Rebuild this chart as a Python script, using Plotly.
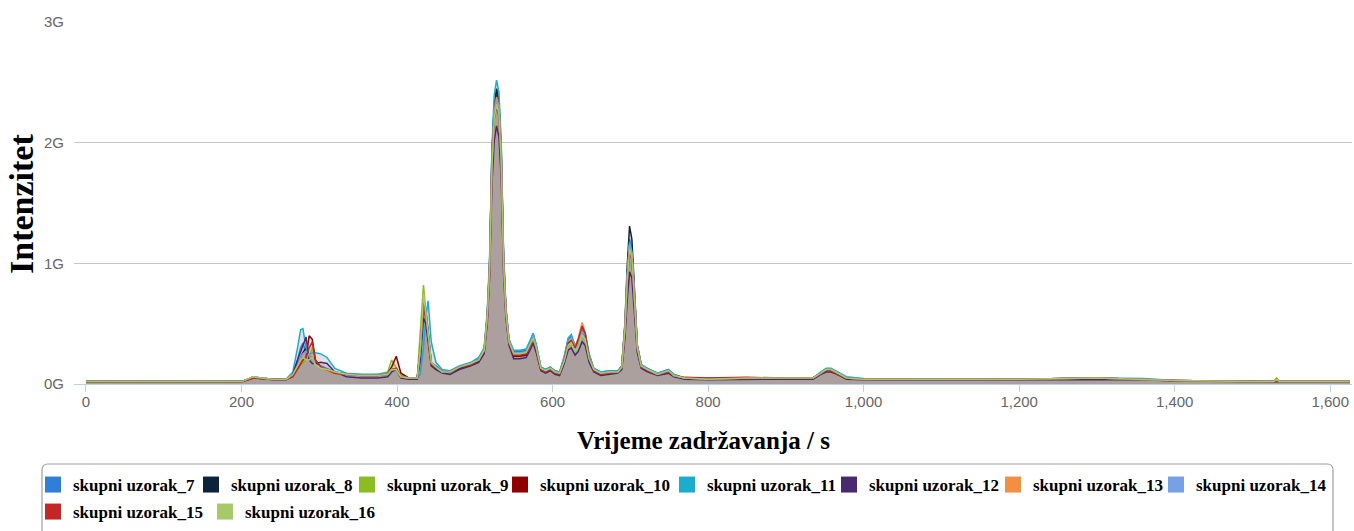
import plotly.graph_objects as go

# Retention time grid (s)
retention_time_s = [
    0, 100, 200, 208, 215, 225, 240, 258,
    266, 272, 276, 279, 283, 287, 291, 295, 302, 310, 320,
    335, 355, 375, 388, 393, 399, 405, 415, 426,
    430, 434, 437, 440, 444, 450, 458, 468, 480, 495, 505,
    512, 516, 519, 522, 525, 528, 531, 534, 537, 540, 544,
    550, 558, 566, 571, 575, 579, 585, 591, 597, 603, 609,
    615, 620, 624, 629, 633, 638, 642, 647, 653, 662, 674, 684,
    689, 693, 696, 699, 702, 705, 709, 714, 722, 735, 743, 749, 756,
    770, 800, 850, 900, 935, 945, 952, 958, 966, 978,
    1000, 1100, 1200, 1300, 1360, 1400, 1500, 1527, 1531, 1535, 1625,
]

# Intensities in G (1e9 counts)
skupni_uzorak_7 = [
    0.022, 0.02, 0.02, 0.04, 0.06, 0.05, 0.04, 0.04,
    0.08, 0.2, 0.3, 0.34, 0.26, 0.22, 0.2, 0.17, 0.15, 0.13, 0.1,
    0.08, 0.07, 0.07, 0.08, 0.12, 0.12, 0.06, 0.05, 0.05,
    0.25, 0.7, 0.62, 0.45, 0.18, 0.15, 0.11, 0.1, 0.14, 0.17, 0.21,
    0.29, 0.58, 1.0, 1.9, 2.3, 2.42, 2.32, 1.92, 1.05, 0.62, 0.36,
    0.27, 0.27, 0.28, 0.35, 0.42, 0.32, 0.14, 0.12, 0.14, 0.11, 0.1,
    0.22, 0.37, 0.4, 0.31, 0.35, 0.46, 0.41, 0.24, 0.13, 0.1, 0.11, 0.11,
    0.15, 0.48, 0.9, 1.2, 1.12, 0.75, 0.32, 0.16, 0.13, 0.09, 0.11, 0.12, 0.08,
    0.05, 0.045, 0.05, 0.05, 0.05, 0.09, 0.12, 0.12, 0.09, 0.05,
    0.04, 0.04, 0.04, 0.05, 0.04, 0.03, 0.02, 0.02, 0.025, 0.02, 0.02,
]
skupni_uzorak_8 = [
    0.02, 0.02, 0.02, 0.04, 0.055, 0.05, 0.04, 0.04,
    0.07, 0.16, 0.22, 0.26, 0.3, 0.24, 0.22, 0.17, 0.14, 0.12, 0.1,
    0.08, 0.07, 0.07, 0.08, 0.12, 0.13, 0.06, 0.05, 0.05,
    0.3, 0.72, 0.6, 0.42, 0.17, 0.14, 0.1, 0.1, 0.14, 0.17, 0.2,
    0.28, 0.56, 1.0, 1.9, 2.32, 2.45, 2.35, 1.95, 1.05, 0.62, 0.36,
    0.26, 0.26, 0.27, 0.33, 0.4, 0.31, 0.13, 0.11, 0.13, 0.1, 0.09,
    0.21, 0.35, 0.37, 0.3, 0.34, 0.44, 0.4, 0.23, 0.12, 0.09, 0.1, 0.1,
    0.15, 0.5, 0.98, 1.31, 1.2, 0.78, 0.32, 0.16, 0.12, 0.09, 0.1, 0.11, 0.07,
    0.05, 0.04, 0.05, 0.05, 0.05, 0.09, 0.12, 0.12, 0.09, 0.05,
    0.04, 0.04, 0.04, 0.05, 0.04, 0.03, 0.02, 0.02, 0.025, 0.02, 0.02,
]
skupni_uzorak_9 = [
    0.02, 0.02, 0.02, 0.04, 0.06, 0.05, 0.04, 0.04,
    0.06, 0.12, 0.16, 0.18, 0.2, 0.22, 0.3, 0.2, 0.14, 0.12, 0.1,
    0.08, 0.07, 0.08, 0.1, 0.2, 0.14, 0.07, 0.05, 0.05,
    0.45, 0.82, 0.6, 0.35, 0.16, 0.14, 0.11, 0.1, 0.14, 0.17, 0.2,
    0.28, 0.55, 0.95, 1.8, 2.2, 2.3, 2.22, 1.82, 1.0, 0.6, 0.35,
    0.25, 0.25, 0.26, 0.31, 0.37, 0.29, 0.13, 0.11, 0.13, 0.1, 0.09,
    0.19, 0.32, 0.34, 0.27, 0.31, 0.41, 0.37, 0.21, 0.12, 0.09, 0.1, 0.1,
    0.14, 0.46, 0.87, 1.15, 1.07, 0.72, 0.3, 0.15, 0.12, 0.08, 0.1, 0.11, 0.07,
    0.05, 0.04, 0.05, 0.05, 0.05, 0.09, 0.12, 0.12, 0.09, 0.05,
    0.04, 0.04, 0.04, 0.05, 0.04, 0.03, 0.02, 0.02, 0.05, 0.02, 0.02,
]
skupni_uzorak_10 = [
    0.02, 0.02, 0.02, 0.035, 0.05, 0.045, 0.04, 0.04,
    0.06, 0.12, 0.17, 0.2, 0.22, 0.4, 0.37, 0.2, 0.14, 0.12, 0.09,
    0.08, 0.07, 0.07, 0.09, 0.14, 0.23, 0.09, 0.05, 0.05,
    0.3, 0.68, 0.55, 0.4, 0.17, 0.13, 0.1, 0.1, 0.13, 0.16, 0.19,
    0.28, 0.55, 0.97, 1.85, 2.28, 2.4, 2.3, 1.88, 1.02, 0.6, 0.35,
    0.23, 0.23, 0.24, 0.31, 0.38, 0.29, 0.12, 0.1, 0.12, 0.09, 0.08,
    0.2, 0.34, 0.37, 0.3, 0.36, 0.47, 0.41, 0.22, 0.11, 0.08, 0.09, 0.1,
    0.14, 0.45, 0.85, 1.12, 1.05, 0.7, 0.3, 0.15, 0.11, 0.08, 0.09, 0.1, 0.07,
    0.05, 0.045, 0.05, 0.05, 0.05, 0.09, 0.11, 0.11, 0.08, 0.05,
    0.04, 0.04, 0.04, 0.045, 0.04, 0.03, 0.02, 0.02, 0.025, 0.02, 0.02,
]
skupni_uzorak_11 = [
    0.025, 0.022, 0.022, 0.04, 0.06, 0.05, 0.04, 0.045,
    0.1, 0.3, 0.45, 0.46, 0.3, 0.24, 0.26, 0.26, 0.25, 0.22, 0.13,
    0.09, 0.08, 0.08, 0.09, 0.12, 0.12, 0.06, 0.05, 0.05,
    0.08, 0.3, 0.55, 0.69, 0.35, 0.18, 0.12, 0.11, 0.15, 0.18, 0.22,
    0.3, 0.6, 1.05, 1.95, 2.4, 2.52, 2.42, 2.0, 1.1, 0.64, 0.37,
    0.28, 0.28, 0.29, 0.36, 0.42, 0.33, 0.14, 0.12, 0.14, 0.11, 0.1,
    0.23, 0.38, 0.41, 0.32, 0.36, 0.47, 0.42, 0.25, 0.13, 0.1, 0.11, 0.11,
    0.15, 0.48, 0.9, 1.18, 1.1, 0.74, 0.32, 0.16, 0.13, 0.09, 0.11, 0.12, 0.08,
    0.05, 0.05, 0.05, 0.05, 0.05, 0.1, 0.13, 0.13, 0.1, 0.06,
    0.045, 0.04, 0.04, 0.05, 0.045, 0.03, 0.02, 0.02, 0.025, 0.02, 0.02,
]
skupni_uzorak_12 = [
    0.02, 0.02, 0.018, 0.035, 0.05, 0.045, 0.035, 0.035,
    0.08, 0.2, 0.28, 0.32, 0.39, 0.2, 0.17, 0.17, 0.18, 0.17, 0.1,
    0.06, 0.05, 0.05, 0.06, 0.1, 0.12, 0.05, 0.04, 0.04,
    0.2, 0.55, 0.5, 0.35, 0.15, 0.12, 0.09, 0.08, 0.12, 0.15, 0.18,
    0.25, 0.5, 0.88, 1.65, 2.02, 2.14, 2.05, 1.7, 0.92, 0.55, 0.32,
    0.21, 0.21, 0.22, 0.28, 0.34, 0.26, 0.11, 0.09, 0.11, 0.08, 0.07,
    0.17, 0.28, 0.3, 0.24, 0.27, 0.35, 0.32, 0.18, 0.1, 0.07, 0.08, 0.09,
    0.12, 0.38, 0.7, 0.93, 0.88, 0.6, 0.26, 0.13, 0.1, 0.07, 0.08, 0.09, 0.06,
    0.04, 0.035, 0.04, 0.04, 0.04, 0.08, 0.1, 0.1, 0.08, 0.04,
    0.035, 0.035, 0.035, 0.04, 0.035, 0.025, 0.018, 0.018, 0.02, 0.018, 0.018,
]
skupni_uzorak_13 = [
    0.02, 0.02, 0.02, 0.04, 0.055, 0.05, 0.04, 0.04,
    0.06, 0.13, 0.18, 0.2, 0.22, 0.25, 0.22, 0.16, 0.13, 0.11, 0.09,
    0.08, 0.07, 0.07, 0.08, 0.12, 0.12, 0.06, 0.05, 0.05,
    0.32, 0.72, 0.58, 0.42, 0.17, 0.14, 0.1, 0.1, 0.14, 0.17, 0.2,
    0.28, 0.56, 0.98, 1.85, 2.26, 2.38, 2.3, 1.9, 1.03, 0.61, 0.35,
    0.25, 0.25, 0.26, 0.32, 0.39, 0.3, 0.13, 0.11, 0.13, 0.1, 0.09,
    0.21, 0.35, 0.38, 0.31, 0.38, 0.51, 0.43, 0.23, 0.12, 0.09, 0.1, 0.1,
    0.14, 0.46, 0.87, 1.15, 1.08, 0.72, 0.31, 0.15, 0.12, 0.08, 0.1, 0.11, 0.07,
    0.05, 0.045, 0.05, 0.05, 0.05, 0.09, 0.12, 0.12, 0.09, 0.05,
    0.04, 0.04, 0.04, 0.05, 0.04, 0.03, 0.02, 0.02, 0.025, 0.02, 0.02,
]
skupni_uzorak_14 = [
    0.022, 0.02, 0.02, 0.04, 0.06, 0.05, 0.04, 0.04,
    0.07, 0.15, 0.22, 0.25, 0.27, 0.23, 0.2, 0.16, 0.14, 0.12, 0.1,
    0.08, 0.07, 0.07, 0.08, 0.12, 0.12, 0.06, 0.05, 0.05,
    0.28, 0.7, 0.6, 0.44, 0.18, 0.14, 0.11, 0.1, 0.14, 0.17, 0.2,
    0.28, 0.56, 0.96, 1.82, 2.24, 2.35, 2.26, 1.86, 1.02, 0.6, 0.35,
    0.26, 0.26, 0.27, 0.33, 0.4, 0.31, 0.13, 0.11, 0.13, 0.1, 0.09,
    0.21, 0.35, 0.37, 0.29, 0.33, 0.44, 0.4, 0.23, 0.12, 0.09, 0.1, 0.1,
    0.15, 0.47, 0.88, 1.16, 1.08, 0.72, 0.31, 0.16, 0.12, 0.09, 0.1, 0.11, 0.07,
    0.05, 0.04, 0.05, 0.05, 0.05, 0.09, 0.12, 0.12, 0.09, 0.05,
    0.04, 0.04, 0.04, 0.05, 0.04, 0.03, 0.02, 0.02, 0.025, 0.02, 0.02,
]
skupni_uzorak_15 = [
    0.02, 0.02, 0.02, 0.035, 0.05, 0.045, 0.04, 0.04,
    0.06, 0.13, 0.17, 0.2, 0.22, 0.3, 0.35, 0.2, 0.14, 0.12, 0.09,
    0.08, 0.07, 0.07, 0.08, 0.12, 0.13, 0.06, 0.05, 0.05,
    0.3, 0.7, 0.58, 0.42, 0.17, 0.14, 0.1, 0.1, 0.14, 0.16, 0.2,
    0.27, 0.54, 0.94, 1.8, 2.2, 2.3, 2.22, 1.82, 1.0, 0.6, 0.34,
    0.24, 0.24, 0.25, 0.31, 0.38, 0.29, 0.12, 0.1, 0.12, 0.09, 0.08,
    0.2, 0.34, 0.36, 0.3, 0.37, 0.48, 0.42, 0.22, 0.11, 0.08, 0.09, 0.1,
    0.14, 0.44, 0.84, 1.1, 1.03, 0.69, 0.3, 0.15, 0.11, 0.08, 0.09, 0.1, 0.07,
    0.055, 0.05, 0.055, 0.05, 0.05, 0.09, 0.11, 0.11, 0.08, 0.05,
    0.04, 0.04, 0.04, 0.05, 0.04, 0.03, 0.02, 0.02, 0.025, 0.02, 0.02,
]
skupni_uzorak_16 = [
    0.02, 0.02, 0.02, 0.04, 0.06, 0.05, 0.04, 0.04,
    0.08, 0.15, 0.2, 0.22, 0.2, 0.2, 0.22, 0.16, 0.13, 0.12, 0.1,
    0.08, 0.07, 0.07, 0.08, 0.12, 0.12, 0.06, 0.05, 0.05,
    0.3, 0.75, 0.6, 0.42, 0.18, 0.14, 0.1, 0.1, 0.14, 0.17, 0.2,
    0.28, 0.55, 0.95, 1.8, 2.2, 2.32, 2.24, 1.84, 1.0, 0.6, 0.35,
    0.25, 0.25, 0.26, 0.32, 0.38, 0.3, 0.13, 0.11, 0.13, 0.1, 0.09,
    0.19, 0.32, 0.34, 0.27, 0.31, 0.41, 0.37, 0.21, 0.12, 0.09, 0.1, 0.1,
    0.14, 0.45, 0.85, 1.12, 1.05, 0.7, 0.3, 0.15, 0.12, 0.08, 0.1, 0.11, 0.07,
    0.05, 0.04, 0.05, 0.05, 0.05, 0.09, 0.12, 0.12, 0.09, 0.05,
    0.04, 0.04, 0.04, 0.05, 0.04, 0.03, 0.02, 0.02, 0.035, 0.02, 0.02,
]

series_names = [
    "skupni uzorak_7", "skupni uzorak_8", "skupni uzorak_9", "skupni uzorak_10",
    "skupni uzorak_11", "skupni uzorak_12", "skupni uzorak_13", "skupni uzorak_14",
    "skupni uzorak_15", "skupni uzorak_16",
]
series_values = [
    skupni_uzorak_7, skupni_uzorak_8, skupni_uzorak_9, skupni_uzorak_10,
    skupni_uzorak_11, skupni_uzorak_12, skupni_uzorak_13, skupni_uzorak_14,
    skupni_uzorak_15, skupni_uzorak_16,
]
series_colors = [
    "#2f7ed8", "#0d233a", "#8bbc21", "#910000", "#1aadce",
    "#492970", "#f28f43", "#77a1e5", "#c42525", "#a6c96a",
]

x_tick_vals = [0, 200, 400, 600, 800, 1000, 1200, 1400, 1600]
x_tick_text = ["0", "200", "400", "600", "800", "1,000", "1,200", "1,400", "1,600"]
y_tick_vals = [0, 1, 2, 3]
y_tick_text = ["0G", "1G", "2G", "3G"]

for name, vals in zip(series_names, series_values):
    if len(vals) != len(retention_time_s):
        raise ValueError(f"{name}: {len(vals)} values vs {len(retention_time_s)} times")

L, R, T, B = 74, 2, 22, 147
W, H = 1354, 531
pw = W - L - R
ph = H - T - B

def px_x(px):
    return (px - L) / pw

def px_y(py):
    return (H - B - py) / ph

# legend entry layout (pixel positions of text start and row centre)
legend_text_left_px = [71, 229, 385, 538, 705, 867, 1031, 1194, 71, 243]
legend_row_center_px = [485, 485, 485, 485, 485, 485, 485, 485, 512, 512]

fig = go.Figure()

# fills first
for name, vals in zip(series_names, series_values):
    fig.add_trace(go.Scatter(
        x=retention_time_s, y=vals, mode="lines", fill="tozeroy",
        line=dict(width=0, color="rgba(0,0,0,0)"),
        fillcolor="rgba(170,160,156,0.32)",
        showlegend=False, hoverinfo="skip",
    ))

# lines on top
for name, vals, col in zip(series_names, series_values, series_colors):
    fig.add_trace(go.Scatter(
        x=retention_time_s, y=vals, mode="lines", name=name,
        line=dict(width=1.5, color=col),
        showlegend=False,
    ))

legend_font = dict(family="Liberation Serif, Times New Roman, serif", size=17,
                   color="black", weight="bold")
legend_layouts = {}
for i, (name, col) in enumerate(zip(series_names, series_colors)):
    key = "legend" if i == 0 else f"legend{i + 1}"
    fig.add_trace(go.Scatter(
        x=[None], y=[None], mode="markers", name=name,
        marker=dict(symbol="square", size=17, color=col),
        showlegend=True, legend=key,
    ))
    legend_layouts[key] = dict(
        orientation="h", xanchor="left", yanchor="middle",
        x=px_x(legend_text_left_px[i] - 38), y=px_y(legend_row_center_px[i]),
        borderwidth=0, bgcolor="rgba(0,0,0,0)", font=legend_font,
        itemsizing="trace",
    )

# rounded legend frame
fx0, fx1, fy0, fy1, r = 42, 1333, 464, 540, 6
frame_path = (
    f"M {px_x(fx0)} {px_y(fy1)} L {px_x(fx0)} {px_y(fy0 + r)} "
    f"Q {px_x(fx0)} {px_y(fy0)} {px_x(fx0 + r)} {px_y(fy0)} "
    f"L {px_x(fx1 - r)} {px_y(fy0)} "
    f"Q {px_x(fx1)} {px_y(fy0)} {px_x(fx1)} {px_y(fy0 + r)} "
    f"L {px_x(fx1)} {px_y(fy1)}"
)

fig.update_layout(
    width=W, height=H,
    margin=dict(l=L, r=R, t=T, b=B, autoexpand=False),
    paper_bgcolor="white", plot_bgcolor="white",
    xaxis=dict(
        range=[-15.4, 1628], tickvals=x_tick_vals, ticktext=x_tick_text,
        showgrid=False, zeroline=False, showline=True, linecolor="#C0D0E0", linewidth=1,
        ticks="outside", ticklen=7, tickcolor="#C0D0E0", ticklabelstandoff=-3,
        tickfont=dict(family="Liberation Sans Narrow, Liberation Sans, sans-serif", size=15, color="#666666"),
    ),
    yaxis=dict(
        range=[0, 3.002], tickvals=y_tick_vals, ticktext=y_tick_text,
        showgrid=True, gridcolor="#C6C6C6", gridwidth=1, zeroline=False, showline=False,
        ticks="", ticklabelstandoff=9,
        tickfont=dict(family="Liberation Sans Narrow, Liberation Sans, sans-serif", size=15, color="#666666"),
    ),
    showlegend=True,
    shapes=[dict(type="path", xref="paper", yref="paper", path=frame_path,
                 line=dict(color="#a0a0a0", width=1.2), layer="above")],
    annotations=[
        dict(text="<b>Intenzitet</b>", xref="paper", yref="paper",
             x=px_x(22), y=px_y(204), xanchor="center", yanchor="middle",
             textangle=-90, showarrow=False,
             font=dict(family="Liberation Serif, Times New Roman, serif", size=34, color="black")),
        dict(text="<b>Vrijeme zadržavanja / s</b>", xref="paper", yref="paper",
             x=px_x(703), y=px_y(440), xanchor="center", yanchor="middle",
             showarrow=False,
             font=dict(family="Liberation Serif, Times New Roman, serif", size=25, color="black")),
    ],
    **legend_layouts,
)

fig.write_html(
    "out.html",
    config={"displayModeBar": False},
    post_script="document.body.style.margin='0';document.body.style.padding='0';",
)
